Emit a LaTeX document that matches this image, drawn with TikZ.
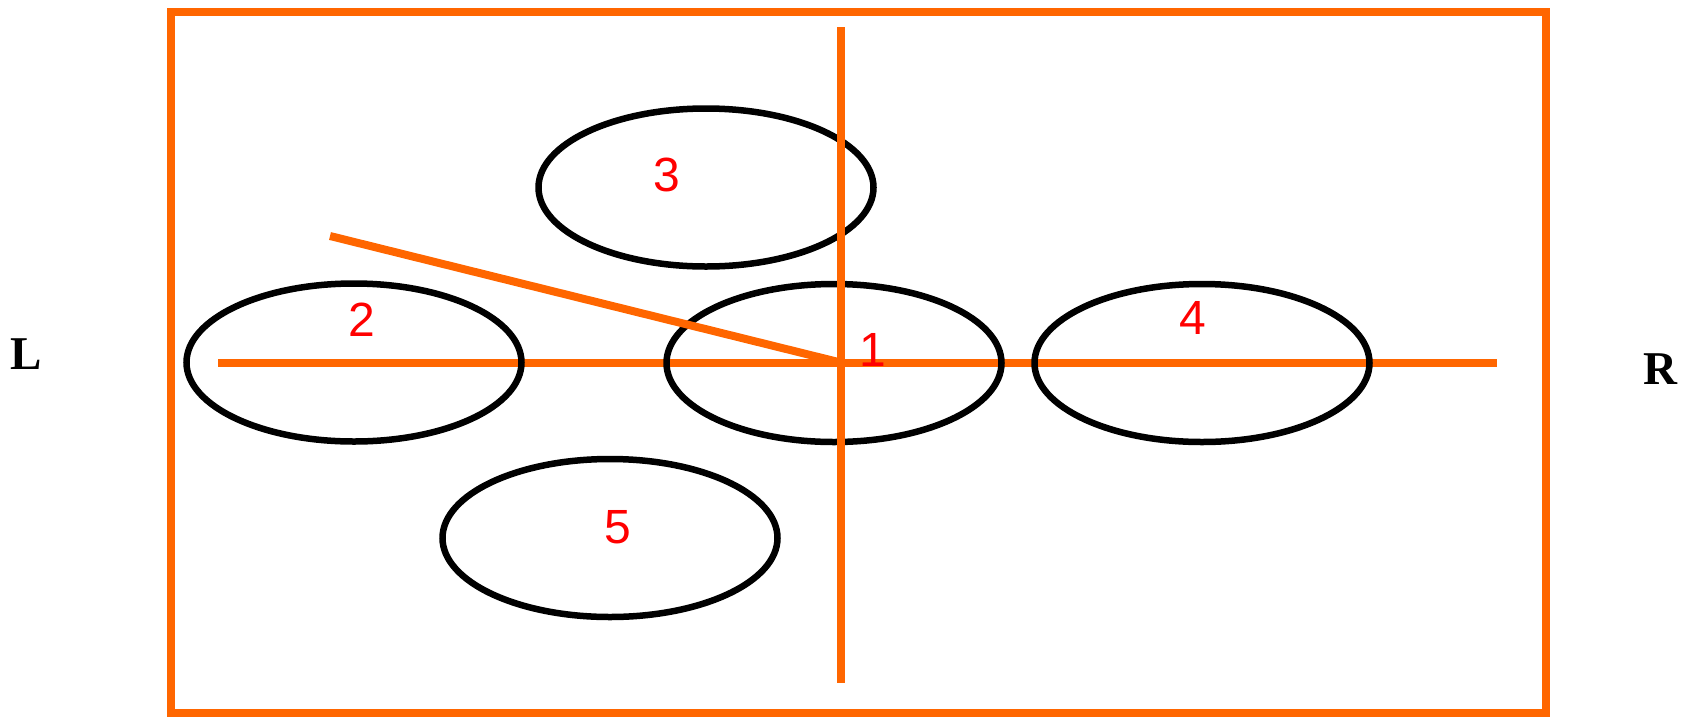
\documentclass[tikz,border=0pt]{standalone}
\usepackage{fontspec}
\setmainfont{Liberation Serif}
\newfontfamily\tagfont{Liberation Sans}
\usetikzlibrary{shapes.geometric}
\definecolor{zoneorange}{HTML}{FF6600}
\definecolor{zonered}{HTML}{FF0000}
\tikzset{
  frame/.style={draw=zoneorange, line width=8pt},
  axis/.style={draw=zoneorange, line width=8pt},
  zone/.style={draw=black, line width=6.5pt, ellipse, minimum width=335pt,
    minimum height=158pt, inner sep=0pt},
  tag/.style={text=zonered, font=\tagfont\fontsize{48}{48}\selectfont, inner sep=0pt},
  side/.style={font=\bfseries\fontsize{47}{47}\selectfont, inner sep=0pt},
}

\begin{document}
\begin{tikzpicture}[x=1pt, y=-1pt]
\useasboundingbox (0,0) rectangle (1682,716);

% ---- frame and horizontal axis ---------------------------------------
\draw[frame] (171,11.5) rectangle (1546,713);
\coordinate (hleft) at (218,362.5);
\coordinate (hright) at (1497,362.5);
\coordinate (centre) at (840.5,362.5);
\draw[axis] (hleft) -- (hright);

% ---- zones -----------------------------------------------------------
\node[zone] (zone1) at (834,363) {};
\node[zone] (zone2) at (354,362.5) {};
\node[zone] (zone3) at (706,187.5) {};
\node[zone] (zone4) at (1202,363) {};
\node[zone] (zone5) at (610,538) {};

% ---- vertical axis and slanted line ----------------------------------
\coordinate (vtop) at (840.5,27);
\coordinate (vbottom) at (840.5,682.5);
\coordinate (slant) at (330,236);
\draw[axis] (vtop) -- (vbottom);
\draw[axis] (slant) -- (centre);

% ---- labels ----------------------------------------------------------
\node[tag] (tag1) at (873,350) {1};
\node[tag] (tag2) at (362,320) {2};
\node[tag] (tag3) at (667,175) {3};
\node[tag] (tag4) at (1193,318) {4};
\node[tag] (tag5) at (618,527) {5};
\node[side] (left) at (26,354) {L};
\node[side] (right) at (1660,369) {R};

\end{tikzpicture}
\end{document}
